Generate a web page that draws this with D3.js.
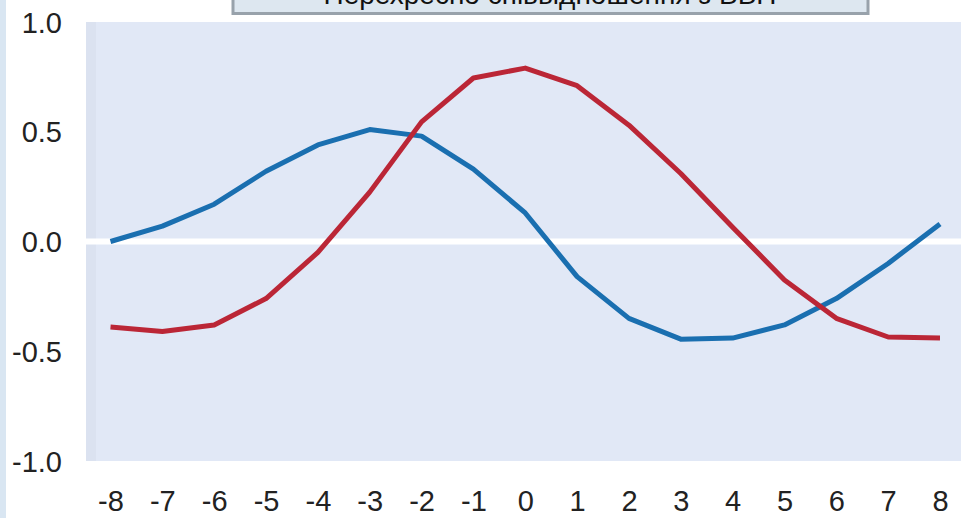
<!DOCTYPE html>
<html>
<head>
<meta charset="utf-8">
<script src="https://cdn.jsdelivr.net/npm/d3@7"></script>
<style>
  html, body { margin: 0; padding: 0; background: #ffffff; }
  svg { display: block; }
</style>
</head>
<body>
<svg id="chart" width="965" height="518"></svg>
<script>
// ---- data ----
const lags = [-8,-7,-6,-5,-4,-3,-2,-1,0,1,2,3,4,5,6,7,8];
const blueSeries = [0.00,0.07,0.17,0.32,0.44,0.51,0.48,0.33,0.13,-0.16,-0.35,-0.445,-0.44,-0.38,-0.26,-0.10,0.08];
const redSeries  = [-0.39,-0.41,-0.38,-0.26,-0.05,0.225,0.545,0.745,0.79,0.71,0.53,0.31,0.065,-0.175,-0.35,-0.435,-0.44];
const yTickValues = [-1.0,-0.5,0.0,0.5,1.0];
const yTickLabels = ["-1.0","-0.5","0.0","0.5","1.0"];
const xTickLabels = ["-8","-7","-6","-5","-4","-3","-2","-1","0","1","2","3","4","5","6","7","8"];
const titleText = "Перехресно співвідношення з ВВП";

// ---- layout ----
const svg = d3.select("#chart");
const W = 965, H = 518;
const plot = { left: 86, right: 961, top: 22, bottom: 461 };

const x = d3.scaleLinear().domain([-8, 8]).range([110.5, 940]);
const y = d3.scaleLinear().domain([-1, 1]).range([plot.bottom, plot.top]);

const font = "'Liberation Sans', Arial, sans-serif";

// left strip
svg.append("rect").attr("x", 0).attr("y", 0).attr("width", 6).attr("height", H).attr("fill", "#d9e6f2");

// plot background
svg.append("rect")
  .attr("x", plot.left).attr("y", plot.top)
  .attr("width", plot.right - plot.left).attr("height", plot.bottom - plot.top)
  .attr("fill", "#e1e8f6");
svg.append("rect")
  .attr("x", plot.left).attr("y", plot.top)
  .attr("width", 10).attr("height", plot.bottom - plot.top)
  .attr("fill", "#dbe2f0");

// zero line
svg.append("line")
  .attr("x1", plot.left).attr("x2", plot.right)
  .attr("y1", y(0)).attr("y2", y(0))
  .attr("stroke", "#ffffff").attr("stroke-width", 6);

// y axis
const yAxis = d3.axisLeft(y)
  .tickValues(yTickValues)
  .tickSize(0)
  .tickPadding(0)
  .tickFormat((d, i) => yTickLabels[i]);
const gy = svg.append("g").attr("transform", "translate(62,0)").call(yAxis);
gy.select(".domain").remove();
gy.selectAll("text")
  .attr("font-family", font).attr("font-size", 29).attr("fill", "#222")
  .attr("dy", null).attr("y", 10).attr("text-anchor", "end");

// x axis
const xAxis = d3.axisBottom(x)
  .tickValues(lags)
  .tickSize(0)
  .tickPadding(0)
  .tickFormat((d, i) => xTickLabels[i]);
const gx = svg.append("g").attr("transform", "translate(0,511)").call(xAxis);
gx.select(".domain").remove();
gx.selectAll("text")
  .attr("font-family", font).attr("font-size", 29).attr("fill", "#222")
  .attr("dy", null).attr("y", 0);

// lines
const line = d3.line().x((d, i) => x(lags[i])).y(d => y(d));
svg.append("path").datum(blueSeries)
  .attr("d", line).attr("fill", "none")
  .attr("stroke", "#1a6fb0").attr("stroke-width", 5)
  .attr("stroke-linejoin", "round");
svg.append("path").datum(redSeries)
  .attr("d", line).attr("fill", "none")
  .attr("stroke", "#bb2636").attr("stroke-width", 5)
  .attr("stroke-linejoin", "round");

// title box (cut off at top)
svg.append("rect")
  .attr("x", 233).attr("y", -30)
  .attr("width", 635).attr("height", 43.5)
  .attr("fill", "#dde7f0").attr("stroke", "#98a2ab").attr("stroke-width", 3);
svg.append("text")
  .attr("x", 550).attr("y", 4)
  .attr("text-anchor", "middle")
  .attr("font-family", font).attr("font-size", 28).attr("fill", "#111")
  .text(titleText);
</script>
</body>
</html>
